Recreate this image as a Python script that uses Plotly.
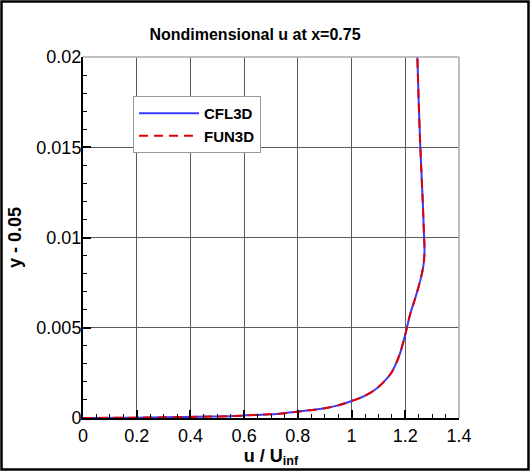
import plotly.graph_objects as go

# profile data (u/Uinf vs y-0.05)
u_cfl3d = [0.0, 0.19, 0.31, 0.43, 0.56, 0.68, 0.72, 0.80, 0.90, 0.95, 1.0, 1.045, 1.086,
           1.12, 1.147, 1.168, 1.181, 1.196, 1.206, 1.219, 1.235, 1.25, 1.262, 1.268,
           1.271, 1.2715, 1.270, 1.265, 1.256, 1.25, 1.245]
y_cfl3d = [0.0, 0.00002, 0.00004, 0.00007, 0.00011, 0.0002, 0.00022, 0.00035, 0.00054,
           0.0007, 0.00094, 0.0012, 0.00155, 0.002, 0.00248, 0.0031, 0.0036, 0.0044,
           0.005, 0.0058, 0.00654, 0.0073, 0.008, 0.0085, 0.009, 0.0095, 0.01, 0.012,
           0.015, 0.0175, 0.02]

u_fun3d = [0.0, 0.19, 0.31, 0.43, 0.56, 0.68, 0.72, 0.80, 0.90, 0.95, 1.0, 1.045, 1.086,
           1.12, 1.147, 1.168, 1.181, 1.196, 1.206, 1.219, 1.235, 1.25, 1.262, 1.268,
           1.271, 1.2715, 1.270, 1.265, 1.256, 1.25, 1.245]
y_fun3d = [0.0, 0.00002, 0.00004, 0.00007, 0.00011, 0.0002, 0.00022, 0.00035, 0.00054,
           0.0007, 0.00094, 0.0012, 0.00155, 0.002, 0.00248, 0.0031, 0.0036, 0.0044,
           0.005, 0.0058, 0.00654, 0.0073, 0.008, 0.0085, 0.009, 0.0095, 0.01, 0.012,
           0.015, 0.0175, 0.02]

x_ticks = [0, 0.2, 0.4, 0.6, 0.8, 1.0, 1.2, 1.4]
x_labels = ['0', '0.2', '0.4', '0.6', '0.8', '1', '1.2', '1.4']
y_ticks = [0, 0.005, 0.01, 0.015, 0.02]
y_labels = ['0', '0.005', '0.01', '0.015', '0.02']

W, H = 530, 471
ML, MR, MT, MB = 83, 71, 57, 53
pw, ph = W - ML - MR, H - MT - MB

fig = go.Figure()
fig.add_trace(go.Scatter(x=u_cfl3d, y=y_cfl3d, mode='lines', name='<b>CFL3D</b>',
                         line=dict(color='#3a3aff', width=2, shape='spline', smoothing=0.8)))
fig.add_trace(go.Scatter(x=u_fun3d, y=y_fun3d, mode='lines', name='<b>FUN3D</b>',
                         line=dict(color='#e00000', width=2, dash='9px,6px',
                                   shape='spline', smoothing=0.8)))

grid = '#5a5a5a'
fig.update_xaxes(range=[0, 1.4], tickvals=x_ticks, ticktext=x_labels,
                 showgrid=True, gridcolor=grid, gridwidth=1, zeroline=False,
                 showline=True, linecolor='black', linewidth=2,
                 ticks='inside', ticklen=8, tickwidth=2, tickcolor='black',
                 minor=dict(dtick=0.05, ticks='inside', ticklen=4, tickwidth=1,
                            tickcolor='black', showgrid=False),
                 tickfont=dict(size=18, color='black'),
                 title=dict(text='<b>u / U<sub>inf</sub></b>', font=dict(size=18, color='black'),
                            standoff=2))
fig.update_yaxes(range=[0, 0.02], tickvals=y_ticks, ticktext=y_labels,
                 showgrid=True, gridcolor=grid, gridwidth=1, zeroline=False,
                 showline=True, linecolor='black', linewidth=2,
                 ticks='inside', ticklen=8, tickwidth=2, tickcolor='black',
                 minor=dict(dtick=0.001, ticks='inside', ticklen=4, tickwidth=1,
                            tickcolor='black', showgrid=False),
                 tickfont=dict(size=18, color='black'), ticklabelstandoff=-4,
                 title=dict(text='<b>y - 0.05</b>', font=dict(size=18, color='black'),
                            standoff=10))

# light frame on top/right and outer border around the picture
fig.add_shape(type='line', xref='paper', yref='paper', x0=0, x1=1, y0=1, y1=1,
              line=dict(color='#aaaaaa', width=1.5))
fig.add_shape(type='line', xref='paper', yref='paper', x0=1, x1=1, y0=0, y1=1,
              line=dict(color='#aaaaaa', width=1.5))
fig.add_shape(type='rect', xref='paper', yref='paper',
              x0=-(ML - 1.5) / pw, x1=1 + (MR - 1.5) / pw,
              y0=-(MB - 1.5) / ph, y1=1 + (MT - 1.5) / ph,
              line=dict(color='black', width=2.5), layer='below')

fig.update_layout(
    width=W, height=H,
    margin=dict(l=ML, r=MR, t=MT, b=MB),
    paper_bgcolor='white', plot_bgcolor='white',
    font=dict(family='Liberation Sans, Arial, sans-serif', color='black'),
    title=dict(text='<b>Nondimensional u at x=0.75</b>', font=dict(size=16, color='black'),
               x=255 / W, xanchor='center', y=1 - 34 / H, yanchor='middle'),
    legend=dict(x=(133 - ML) / pw, y=(418 - 96) / ph, xanchor='left', yanchor='top',
                bgcolor='white', bordercolor='#999999', borderwidth=1,
                font=dict(size=15, color='black'), itemwidth=60,
                tracegroupgap=2),
    showlegend=True,
)

fig.write_html("out.html", config={'displayModeBar': False},
               post_script="document.body.style.margin='0';")
